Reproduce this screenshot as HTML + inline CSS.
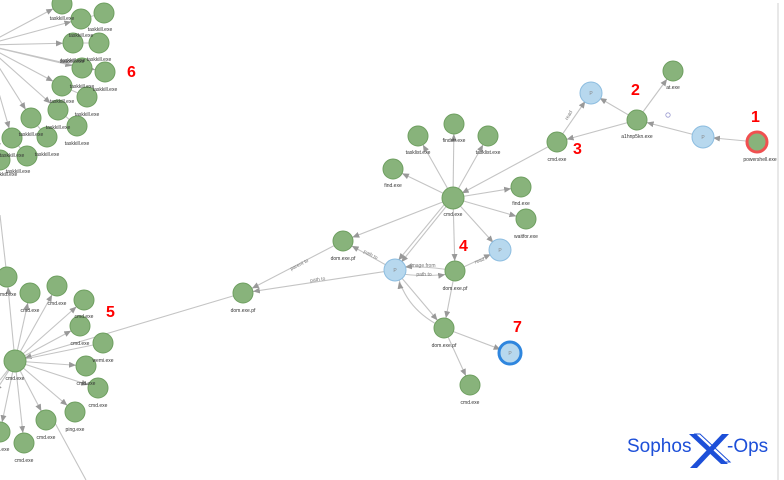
<!DOCTYPE html>
<html><head><meta charset="utf-8"><style>
html,body{margin:0;padding:0;background:#fff;}
svg{display:block;font-family:"Liberation Sans",sans-serif;}
.g{fill:#88b37b;stroke:#6e9f60;stroke-width:1;}
.b{fill:#b7d8ee;stroke:#8dbde0;stroke-width:1;}
.e{stroke:#c4c4c4;stroke-width:1.1;fill:none;}
.l{font-size:5px;fill:#333;text-anchor:middle;}
.el{font-size:5px;fill:#777;text-anchor:middle;}
.n{font-size:16px;font-weight:bold;fill:#f00;}
.p{font-size:5px;fill:#888;text-anchor:middle;}
</style></head><body>
<svg width="784" height="480" viewBox="0 0 784 480">
<defs>
<marker id="a" markerUnits="userSpaceOnUse" markerWidth="8" markerHeight="8" refX="17" refY="3" orient="auto"><path d="M0,0 L7,3 L0,6 Z" fill="#999"/></marker>
</defs>
<line x1="778" y1="3" x2="778" y2="480" stroke="#e0e0e0" stroke-width="1.5"/>

<!-- top-left cluster edges -->
<g class="e" marker-end="url(#a)">
<line x1="-15" y1="45" x2="62" y2="4"/>
<line x1="-15" y1="45" x2="81" y2="19"/>
<line x1="-15" y1="45" x2="73" y2="43"/>
<line x1="-15" y1="45" x2="82" y2="68"/>
<line x1="-15" y1="45" x2="62" y2="86"/>
<line x1="-15" y1="45" x2="58" y2="110"/>
<line x1="-15" y1="45" x2="31" y2="118"/>
<line x1="-15" y1="45" x2="12" y2="138"/>
<line x1="-15" y1="45" x2="0" y2="160"/>
<line x1="-15" y1="45" x2="105" y2="72"/>
</g>
<g class="e">
<line x1="81" y1="19" x2="104" y2="13"/><line x1="73" y1="43" x2="99" y2="43"/>
<line x1="62" y1="86" x2="87" y2="97"/><line x1="58" y1="110" x2="77" y2="126"/>
<line x1="31" y1="118" x2="47" y2="137"/><line x1="12" y1="138" x2="27" y2="156"/>
<line x1="0" y1="215" x2="7" y2="277"/>
</g>
<g>
<circle class="g" cx="62" cy="4" r="10"/><circle class="g" cx="104" cy="13" r="10"/>
<circle class="g" cx="81" cy="19" r="10"/><circle class="g" cx="73" cy="43" r="10"/>
<circle class="g" cx="99" cy="43" r="10"/><circle class="g" cx="82" cy="68" r="10"/>
<circle class="g" cx="105" cy="72" r="10"/><circle class="g" cx="62" cy="86" r="10"/>
<circle class="g" cx="87" cy="97" r="10"/><circle class="g" cx="58" cy="110" r="10"/>
<circle class="g" cx="77" cy="126" r="10"/><circle class="g" cx="31" cy="118" r="10"/>
<circle class="g" cx="47" cy="137" r="10"/><circle class="g" cx="12" cy="138" r="10"/>
<circle class="g" cx="27" cy="156" r="10"/><circle class="g" cx="0" cy="160" r="10"/>
</g>
<g class="l">
<text x="62" y="20">taskkill.exe</text><text x="100" y="31">taskkill.exe</text>
<text x="81" y="37">taskkill.exe</text><text x="73" y="62">taskkill.exe</text>
<text x="99" y="61">taskkill.exe</text><text x="72" y="63">taskkill.exe</text>
<text x="82" y="88">taskkill.exe</text><text x="105" y="91">taskkill.exe</text>
<text x="62" y="103">taskkill.exe</text><text x="87" y="116">taskkill.exe</text>
<text x="58" y="129">taskkill.exe</text><text x="77" y="145">taskkill.exe</text>
<text x="31" y="136">taskkill.exe</text><text x="47" y="156">taskkill.exe</text>
<text x="12" y="157">taskkill.exe</text><text x="18" y="173">taskkill.exe</text>
<text x="5" y="176">taskkill.exe</text>
</g>
<text class="n" x="127" y="77">6</text>

<!-- bottom-left cluster -->
<g class="e" marker-end="url(#a)">
<line x1="15" y1="361" x2="7" y2="277"/><line x1="15" y1="361" x2="30" y2="293"/>
<line x1="15" y1="361" x2="57" y2="286"/><line x1="15" y1="361" x2="84" y2="300"/>
<line x1="15" y1="361" x2="80" y2="326"/><line x1="15" y1="361" x2="86" y2="366"/>
<line x1="15" y1="361" x2="98" y2="388"/><line x1="15" y1="361" x2="75" y2="412"/>
<line x1="15" y1="361" x2="46" y2="420"/><line x1="15" y1="361" x2="24" y2="443"/>
<line x1="15" y1="361" x2="0" y2="432"/><line x1="15" y1="361" x2="-10" y2="400"/>
<line x1="243" y1="293" x2="15" y2="361"/>
</g>
<g class="e"><line x1="15" y1="361" x2="103" y2="343"/><line x1="15" y1="361" x2="0" y2="380"/><line x1="55" y1="423" x2="86" y2="480"/></g>
<g>
<circle class="g" cx="7" cy="277" r="10"/><circle class="g" cx="30" cy="293" r="10"/>
<circle class="g" cx="57" cy="286" r="10"/><circle class="g" cx="84" cy="300" r="10"/>
<circle class="g" cx="80" cy="326" r="10"/><circle class="g" cx="103" cy="343" r="10"/>
<circle class="g" cx="86" cy="366" r="10"/><circle class="g" cx="98" cy="388" r="10"/>
<circle class="g" cx="75" cy="412" r="10"/><circle class="g" cx="46" cy="420" r="10"/>
<circle class="g" cx="24" cy="443" r="10"/><circle class="g" cx="0" cy="432" r="10"/>
<circle class="g" cx="15" cy="361" r="11"/>
</g>
<g class="l">
<text x="7" y="296">cmd.exe</text><text x="30" y="312">cmd.exe</text>
<text x="57" y="305">cmd.exe</text><text x="84" y="318">cmd.exe</text>
<text x="80" y="345">cmd.exe</text><text x="103" y="362">wemi.exe</text>
<text x="86" y="385">cmd.exe</text><text x="98" y="407">cmd.exe</text>
<text x="75" y="431">ping.exe</text><text x="46" y="439">cmd.exe</text>
<text x="24" y="462">cmd.exe</text><text x="0" y="451">cmd.exe</text>
<text x="15" y="380">cmd.exe</text>
</g>
<text class="n" x="106" y="317">5</text>

<!-- center cluster -->
<g class="e" marker-end="url(#a)">
<line x1="453" y1="198" x2="418" y2="136"/><line x1="453" y1="198" x2="454" y2="124"/>
<line x1="453" y1="198" x2="488" y2="136"/><line x1="453" y1="198" x2="393" y2="169"/>
<line x1="453" y1="198" x2="521" y2="187"/><line x1="453" y1="198" x2="526" y2="219"/>
<line x1="453" y1="198" x2="500" y2="250"/><line x1="453" y1="198" x2="455" y2="271"/>
<line x1="453" y1="198" x2="395" y2="270"/><line x1="448" y1="200" x2="392" y2="268"/>
<line x1="453" y1="198" x2="343" y2="241"/>
<line x1="557" y1="142" x2="453" y2="198"/>
<line x1="343" y1="241" x2="243" y2="293"/>
<line x1="395" y1="270" x2="243" y2="293"/>
<line x1="395" y1="270" x2="343" y2="241"/>
<path d="M455,271 Q425,265 395,268"/>
<path d="M395,273 Q425,278 455,273"/>
<line x1="455" y1="271" x2="500" y2="250"/>
<line x1="455" y1="271" x2="444" y2="328"/>
<line x1="395" y1="270" x2="444" y2="328"/>
<path d="M444,328 Q405,310 397,272"/>
<line x1="444" y1="328" x2="510" y2="353"/>
<line x1="444" y1="328" x2="470" y2="385"/>
</g>
<g class="el">
<text x="300" y="266" transform="rotate(-27 300 266)">parent to</text>
<text x="318" y="281" transform="rotate(-8 318 281)">path to</text>
<text x="370" y="256" transform="rotate(28 370 256)">path to</text>
<text x="423" y="267">image from</text>
<text x="424" y="276">path to</text>
<text x="480" y="262" transform="rotate(-20 480 262)">read</text>
</g>
<g>
<circle class="g" cx="418" cy="136" r="10"/><circle class="g" cx="454" cy="124" r="10"/>
<circle class="g" cx="488" cy="136" r="10"/><circle class="g" cx="393" cy="169" r="10"/>
<circle class="g" cx="521" cy="187" r="10"/><circle class="g" cx="526" cy="219" r="10"/>
<circle class="b" cx="500" cy="250" r="11"/><circle class="g" cx="455" cy="271" r="10"/>
<circle class="b" cx="395" cy="270" r="11"/><circle class="g" cx="343" cy="241" r="10"/>
<circle class="g" cx="243" cy="293" r="10"/><circle class="g" cx="444" cy="328" r="10"/>
<circle cx="510" cy="353" r="11" fill="#b7d8ee" stroke="#2f86de" stroke-width="3"/>
<circle class="g" cx="470" cy="385" r="10"/>
<circle class="g" cx="453" cy="198" r="11"/>
</g>
<g class="p"><text x="500" y="252">P</text><text x="395" y="272">P</text><text x="510" y="355">P</text><text x="591" y="95">P</text><text x="703" y="139">P</text></g>
<g class="l">
<text x="418" y="154">tasklist.exe</text><text x="454" y="142">findstr.exe</text>
<text x="488" y="154">tasklist.exe</text><text x="393" y="187">find.exe</text>
<text x="521" y="205">find.exe</text><text x="526" y="238">waitfor.exe</text>
<text x="455" y="290">dom.exe.pf</text><text x="343" y="260">dom.exe.pf</text>
<text x="243" y="312">dom.exe.pf</text><text x="444" y="347">dom.exe.pf</text>
<text x="470" y="404">cmd.exe</text><text x="453" y="216">cmd.exe</text>
</g>
<text class="n" x="459" y="251">4</text>
<text class="n" x="513" y="332">7</text>

<!-- right cluster -->
<g class="e" marker-end="url(#a)">
<line x1="757" y1="142" x2="703" y2="137"/>
<line x1="703" y1="137" x2="637" y2="120"/>
<line x1="637" y1="120" x2="673" y2="71"/>
<line x1="637" y1="120" x2="591" y2="93"/>
<line x1="637" y1="120" x2="557" y2="142"/>
<line x1="557" y1="142" x2="591" y2="93"/>
</g>
<text class="el" x="570" y="116" transform="rotate(-60 570 116)">read</text>
<circle cx="668" cy="115" r="2.2" fill="none" stroke="#9a9ad0" stroke-width="0.8"/>
<circle class="g" cx="673" cy="71" r="10"/>
<circle class="b" cx="591" cy="93" r="11"/>
<circle class="g" cx="637" cy="120" r="10"/>
<circle class="g" cx="557" cy="142" r="10"/>
<circle class="b" cx="703" cy="137" r="11"/>
<circle cx="757" cy="142" r="10" fill="#88b37b" stroke="#f05050" stroke-width="3"/>
<g class="p"><text x="591" y="95">P</text><text x="703" y="139">P</text></g>
<g class="l">
<text x="673" y="89">at.exe</text><text x="637" y="138">a1hnp5kn.exe</text>
<text x="557" y="161">cmd.exe</text><text x="760" y="161">powershell.exe</text>
</g>
<text class="n" x="631" y="95">2</text>
<text class="n" x="751" y="122">1</text>
<text class="n" x="573" y="154">3</text>

<!-- logo -->
<g>
<text x="627" y="452" font-size="19" fill="#1d4fd8" font-family="Liberation Sans,sans-serif">Sophos</text>
<path d="M689,434 L696,434 L728,464 L721,464 Z" fill="#1d4fd8"/>
<path d="M695,434 L700,434 L730,462 L725,462 Z" fill="none" stroke="#1d4fd8" stroke-width="1"/>
<path d="M722,434 L729,434 L697,468 L690,468 Z" fill="#1d4fd8"/>
<text x="727" y="452" font-size="19" fill="#1d4fd8" font-family="Liberation Sans,sans-serif">-Ops</text>
</g>
</svg>
</body></html>
